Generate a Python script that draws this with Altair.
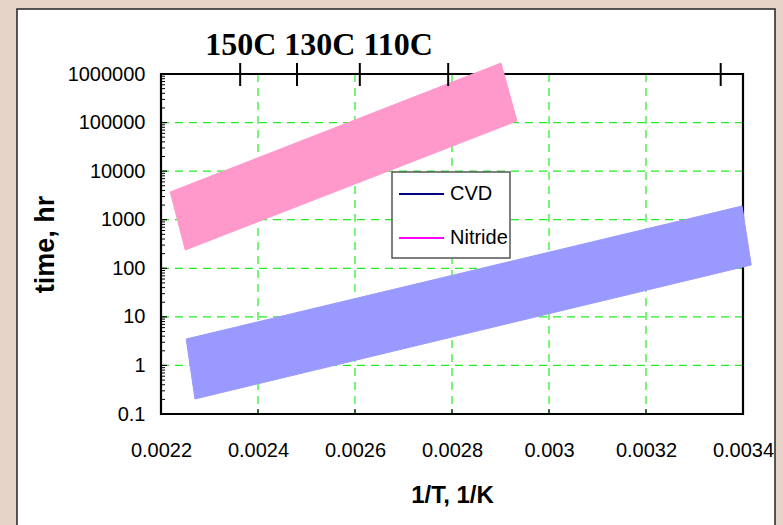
import altair as alt
import pandas as pd

# ---- data ----
x_ticks = [0.0022, 0.0024, 0.0026, 0.0028, 0.003, 0.0032, 0.0034]
x_grid = [0.0024, 0.0026, 0.0028, 0.003, 0.0032]
y_ticks = [0.1, 1, 10, 100, 1000, 10000, 100000, 1000000]
y_grid = [1, 10, 100, 1000, 10000, 100000]
y_minor = [m * 10.0 ** k for k in range(-1, 6) for m in range(2, 10)]
top_temps_C = [150, 130, 110, 85, 25]

nitride_x = [0.002219, 0.002901, 0.002934, 0.00225]
nitride_y = [3720, 1680000, 108000, 238]
cvd_x = [0.002252, 0.003398, 0.003417, 0.00227]
cvd_y = [3.5, 1914, 117, 0.204]

legend_names = ["CVD", "Nitride"]
legend_colors = ["#000080", "#ff00ff"]

W, H = 582, 340
FONT = "Liberation Sans"

xs = alt.Scale(domain=[0.0022, 0.0034], nice=False, zero=False)
ys = alt.Scale(type="log", domain=[0.1, 1000000], nice=False)

xax = alt.Axis(
    values=x_ticks, format="~g", grid=False, ticks=False, domain=False,
    labelFont=FONT, labelFontSize=20, labelColor="black", labelPadding=26,
    labelFlush=False, labelOverlap=False,
    title="1/T, 1/K", titleFont=FONT, titleFontSize=24, titleFontWeight="bold",
    titleColor="black", titleY=88, titleBaseline="alphabetic", zindex=1,
)
yax = alt.Axis(
    values=y_ticks, format="~f", grid=False, ticks=False, domain=False,
    labelFont=FONT, labelFontSize=20, labelColor="black", labelPadding=16,
    labelFlush=False, labelOverlap=False,
    title="time, hr", titleFont=FONT, titleFontSize=27, titleFontWeight="bold",
    titleColor="black", titleX=-108, titleY=H / 2, titleAlign="center",
    titleBaseline="alphabetic", zindex=1,
)


def X(field="x"):
    return alt.X(f"{field}:Q", scale=xs, axis=xax, title="1/T, 1/K")


def Y(field="y"):
    return alt.Y(f"{field}:Q", scale=ys, axis=yax, title="time, hr")


one = pd.DataFrame({"a": [0]})

panel = alt.Chart(one).mark_rect(fill="white", stroke="#222222", strokeWidth=1.5).encode(
    x=alt.value(-144), x2=alt.value(614), y=alt.value(-65), y2=alt.value(470)
)

hgrid = alt.Chart(pd.DataFrame({"y": y_grid})).mark_rule(
    color="#22ee22", strokeWidth=1.2, strokeDash=[8, 6]
).encode(y=Y())

vgrid = alt.Chart(pd.DataFrame({"x": x_grid})).mark_rule(
    color="#22ee22", strokeWidth=1.2, strokeDash=[8, 6]
).encode(x=X())

frame = alt.Chart(one).mark_rect(fillOpacity=0, stroke="black", strokeWidth=2.2).encode(
    x=alt.value(0), x2=alt.value(W), y=alt.value(0), y2=alt.value(H)
)

xtick_in = alt.Chart(pd.DataFrame({"x": x_grid})).mark_rule(color="black", strokeWidth=1.2).encode(
    x=X(), y=alt.value(H - 5), y2=alt.value(H)
)
ytick_minor = alt.Chart(pd.DataFrame({"y": y_minor})).mark_rule(color="black", strokeWidth=1).encode(
    y=Y(), x=alt.value(0), x2=alt.value(4)
)
ytick_major = alt.Chart(pd.DataFrame({"y": y_ticks})).mark_rule(color="black", strokeWidth=1.2).encode(
    y=Y(), x=alt.value(0), x2=alt.value(6)
)

top_ticks = alt.Chart(pd.DataFrame({"T": top_temps_C})).transform_calculate(
    x="1/(datum.T + 273.15)"
).mark_rule(color="black", strokeWidth=2).encode(
    x=X(), y=alt.value(-11), y2=alt.value(12)
)

top_title = alt.Chart(one).mark_text(
    text="150C 130C 110C", font="Liberation Serif", fontWeight="bold", fontSize=32,
    align="center", baseline="alphabetic", color="black"
).encode(x=alt.value(158), y=alt.value(-19))


def band(xv, yv, color):
    df = pd.DataFrame({"x": xv, "y": yv, "i": list(range(len(xv)))})
    return alt.Chart(df).mark_line(
        interpolate="linear-closed", fill=color, stroke=color, strokeWidth=1
    ).encode(x=X(), y=Y(), order="i:O")


nitride = band(nitride_x, nitride_y, "#ff99cc")
cvd = band(cvd_x, cvd_y, "#9999ff")

leg_box = alt.Chart(one).mark_rect(fill="white", stroke="#555555", strokeWidth=1.5).encode(
    x=alt.value(231), x2=alt.value(349), y=alt.value(98), y2=alt.value(184)
)
leg_layers = [leg_box]
for i, (name, col) in enumerate(zip(legend_names, legend_colors)):
    yy = 120 + 44 * i
    leg_layers.append(
        alt.Chart(one).mark_rule(color=col, strokeWidth=2).encode(
            x=alt.value(238), x2=alt.value(283), y=alt.value(yy)
        )
    )
    leg_layers.append(
        alt.Chart(one).mark_text(
            text=name, font=FONT, fontSize=20, align="left", baseline="middle", color="black"
        ).encode(x=alt.value(289), y=alt.value(yy))
    )

chart = alt.layer(
    panel, hgrid, vgrid, frame, xtick_in, ytick_minor, ytick_major,
    nitride, cvd, top_ticks, top_title, *leg_layers
).properties(
    width=W, height=H,
    padding={"left": 161, "top": 74, "right": 40, "bottom": 111},
    autosize=alt.AutoSizeParams(type="none"),
    background="#e6d4c8",
).configure_view(stroke=None)

chart.save("out.html", embed_options={"renderer": "svg", "actions": False})
